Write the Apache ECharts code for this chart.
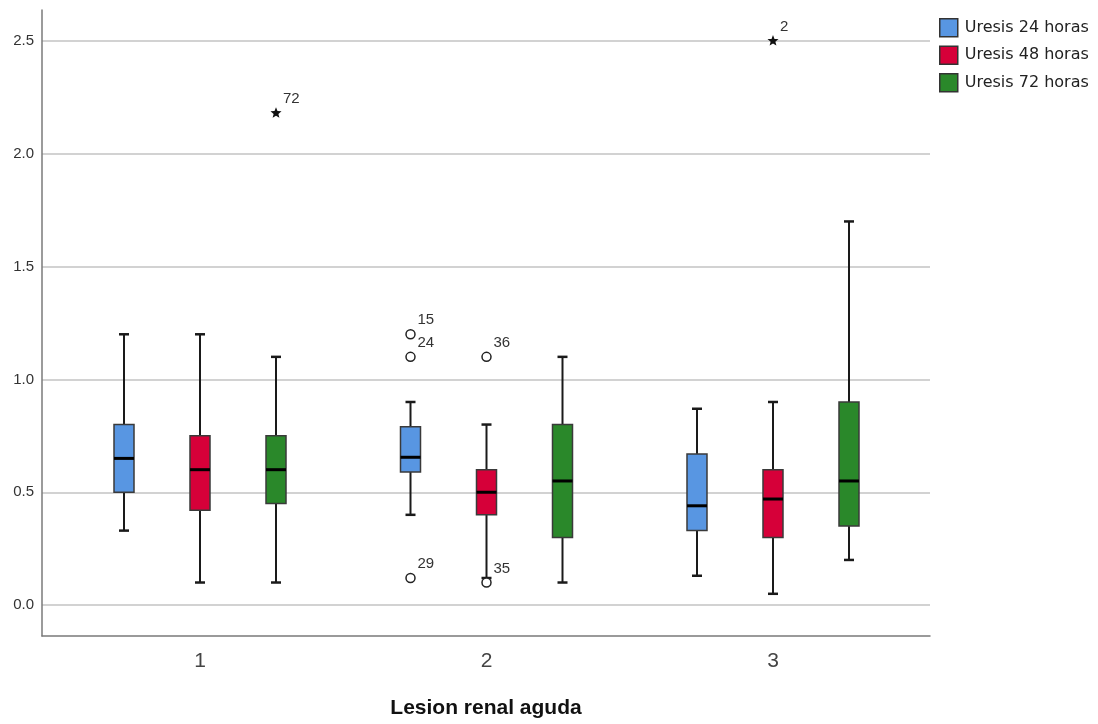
<!DOCTYPE html>
<html><head><meta charset="utf-8">
<script src="https://cdn.jsdelivr.net/npm/echarts@6/dist/echarts.min.js"></script>
<style>html,body{margin:0;padding:0;background:#fff}#c{width:1098px;height:724px}</style>
</head><body><div id="c"></div>
<script>
// ---- data ----
const categories = ['1', '2', '3'];
const seriesNames = ['Uresis 24 horas', 'Uresis 48 horas', 'Uresis 72 horas'];
// per category: [min, Q1, median, Q3, max]
const uresis24 = [[0.33, 0.50, 0.65, 0.80, 1.20], [0.40, 0.59, 0.655, 0.79, 0.90], [0.13, 0.33, 0.44, 0.67, 0.87]];
const uresis48 = [[0.10, 0.42, 0.60, 0.75, 1.20], [0.12, 0.40, 0.50, 0.60, 0.80], [0.05, 0.30, 0.47, 0.60, 0.90]];
const uresis72 = [[0.10, 0.45, 0.60, 0.75, 1.10], [0.10, 0.30, 0.55, 0.80, 1.10], [0.20, 0.35, 0.55, 0.90, 1.70]];
// outliers
const outlierSeries   = [2, 0, 0, 0, 1, 1, 1];
const outlierCategory = [0, 1, 1, 1, 1, 1, 2];
const outlierValues   = [2.18, 1.20, 1.10, 0.12, 1.10, 0.10, 2.50];
const outlierLabels   = ['72', '15', '24', '29', '36', '35', '2'];
const outlierKinds    = ['star', 'circle', 'circle', 'circle', 'circle', 'circle', 'star'];
const yTicks = [0, 0.5, 1.0, 1.5, 2.0, 2.5];

// ---- styling / layout ----
const colors = ['#5896e2', '#d60039', '#2a882a'];
const offsets = [-76, 0, 76];
const FONT = '"Liberation Sans", Arial, sans-serif';

function boxRender(si) {
  return function (params, api) {
    const c = api.value(0);
    const lo = api.coord([c, api.value(1)]);
    const q1 = api.coord([c, api.value(2)]);
    const md = api.coord([c, api.value(3)]);
    const q3 = api.coord([c, api.value(4)]);
    const hi = api.coord([c, api.value(5)]);
    const x = lo[0] + offsets[si];
    const bw = 20, cw = 10;
    const ws = { stroke: '#1a1a1a', lineWidth: 2 };
    return {
      type: 'group',
      children: [
        { type: 'line', shape: { x1: x, y1: hi[1], x2: x, y2: q3[1] }, style: ws },
        { type: 'line', shape: { x1: x, y1: q1[1], x2: x, y2: lo[1] }, style: ws },
        { type: 'line', shape: { x1: x - cw / 2, y1: hi[1], x2: x + cw / 2, y2: hi[1] }, style: { stroke: '#1a1a1a', lineWidth: 2.5 } },
        { type: 'line', shape: { x1: x - cw / 2, y1: lo[1], x2: x + cw / 2, y2: lo[1] }, style: { stroke: '#1a1a1a', lineWidth: 2.5 } },
        { type: 'rect', shape: { x: x - bw / 2, y: q3[1], width: bw, height: q1[1] - q3[1] },
          style: { fill: colors[si], stroke: '#3a3a3a', lineWidth: 1.5 } },
        { type: 'line', shape: { x1: x - bw / 2, y1: md[1], x2: x + bw / 2, y2: md[1] }, style: { stroke: '#000', lineWidth: 3 } }
      ]
    };
  };
}

function starPoints(cx, cy, ro, ri) {
  const pts = [];
  for (let k = 0; k < 10; k++) {
    const r = k % 2 === 0 ? ro : ri;
    const a = -Math.PI / 2 + k * Math.PI / 5;
    pts.push([cx + r * Math.cos(a), cy + r * Math.sin(a)]);
  }
  return pts;
}

function outlierRender(params, api) {
  const i = params.dataIndex;
  const p = api.coord([api.value(0), api.value(1)]);
  const x = p[0] + offsets[outlierSeries[i]];
  const y = p[1];
  const mark = outlierKinds[i] === 'star'
    ? { type: 'polygon', shape: { points: starPoints(x, y, 5.8, 2.5) }, style: { fill: '#111' } }
    : { type: 'circle', shape: { cx: x, cy: y, r: 4.5 }, style: { fill: '#fff', stroke: '#222', lineWidth: 1.5 } };
  return {
    type: 'group',
    children: [
      mark,
      { type: 'text', x: x + 7, y: y - 14,
        style: { text: outlierLabels[i], fill: '#333', font: '15px ' + FONT, textAlign: 'left', textVerticalAlign: 'middle' } }
    ]
  };
}

const allData = [uresis24, uresis48, uresis72];
const series = allData.map((arr, si) => ({
  name: seriesNames[si],
  type: 'custom',
  renderItem: boxRender(si),
  itemStyle: { color: colors[si], borderColor: '#333', borderWidth: 1.5 },
  encode: { x: 0, y: [1, 2, 3, 4, 5] },
  data: arr.map((d, ci) => [ci + 1].concat(d)),
  z: 3
}));
series.push({
  name: 'outliers',
  type: 'custom',
  renderItem: outlierRender,
  encode: { x: 0, y: 1 },
  data: outlierValues.map((v, i) => [outlierCategory[i] + 1, v]),
  z: 4
});

const chart = echarts.init(document.getElementById('c'), null, { renderer: 'canvas' });
chart.setOption({
  animation: false,
  backgroundColor: '#fff',
  grid: { left: 42, right: 168, top: 10, bottom: 87 },
  legend: {
    data: seriesNames,
    orient: 'vertical',
    left: 934, top: 13,
    icon: 'rect',
    itemWidth: 18, itemHeight: 18, itemGap: 8,
    itemStyle: { borderColor: '#333', borderWidth: 1.5 },
    textStyle: { fontFamily: '"DejaVu Sans", sans-serif', fontSize: 16, color: '#222', padding: [0, 0, 0, 2] }
  },
  xAxis: {
    type: 'value',
    min: 0.4485, max: 3.548,
    name: 'Lesion renal aguda',
    nameLocation: 'middle',
    nameGap: 62,
    nameTextStyle: { fontFamily: FONT, fontSize: 21, fontWeight: 'bold', color: '#111' },
    axisLine: { show: true, onZero: false, lineStyle: { color: '#7a7a7a', width: 1.5 } },
    axisTick: { show: false, customValues: [1, 2, 3] },
    splitLine: { show: false },
    axisLabel: { customValues: [1, 2, 3], formatter: v => categories[Math.round(v) - 1], fontFamily: FONT, fontSize: 21, color: '#444', margin: 15 }
  },
  yAxis: {
    type: 'value',
    min: -0.137, max: 2.637,
    axisLine: { show: true, lineStyle: { color: '#7a7a7a', width: 1.5 } },
    axisTick: { show: false, customValues: yTicks },
    axisLabel: { customValues: yTicks, formatter: v => v.toFixed(1), fontFamily: FONT, fontSize: 15, color: '#333', margin: 8 },
    splitLine: { show: true, lineStyle: { color: '#d2d2d2', width: 2 } }
  },
  series: series
});
</script></body></html>
